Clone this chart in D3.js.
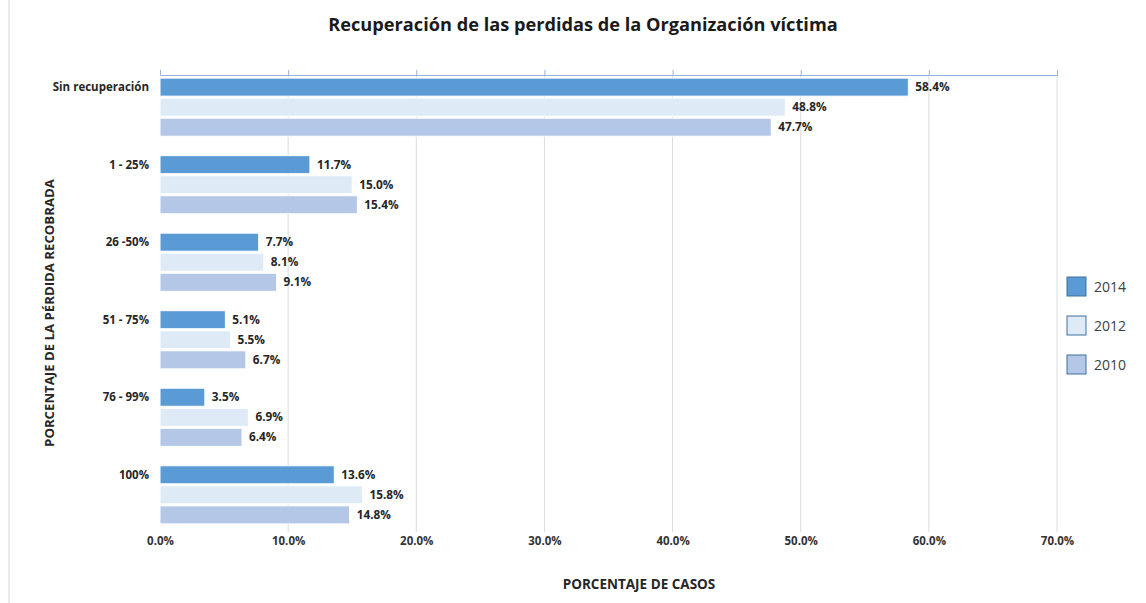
<!DOCTYPE html>
<html>
<head>
<meta charset="utf-8">
<script src="https://cdn.jsdelivr.net/npm/d3@7"></script>
<style>
  body { margin: 0; background: #fff; }
  svg { font-family: "Open Sans", Lato, sans-serif; }
</style>
</head>
<body>
<svg id="chart" width="1146" height="603"></svg>
<script>
var categories = ["Sin recuperación", "1 - 25%", "26 -50%", "51 - 75%", "76 - 99%", "100%"];
var seriesNames = ["2014", "2012", "2010"];
var values2014 = [58.4, 11.7, 7.7, 5.1, 3.5, 13.6];
var values2012 = [48.8, 15.0, 8.1, 5.5, 6.9, 15.8];
var values2010 = [47.7, 15.4, 9.1, 6.7, 6.4, 14.8];
var xTicks = [0, 10, 20, 30, 40, 50, 60, 70];
var colors = ["#5b9bd5", "#deebf7", "#b4c7e7"];

var title = "Recuperación de las perdidas de la Organización víctima";
var xLabel = "PORCENTAJE DE CASOS";
var yLabel = "PORCENTAJE DE LA PÉRDIDA RECOBRADA";

var svg = d3.select('#chart');

var plotLeft = 160, plotRight = 1057, plotTop = 75, plotBottom = 527;

var data = categories.map(function (c, i) {
    return {
        cat: c,
        vals: [values2014[i], values2012[i], values2010[i]]
    };
});

var xScale = d3.scaleLinear()
    .domain([0, 70])
    .range([plotLeft, plotRight]);

var yScale = d3.scaleBand()
    .domain(categories)
    .range([plotTop, plotBottom])
    .paddingInner(0.25)
    .paddingOuter(0.04);

var subScale = d3.scaleBand()
    .domain(seriesNames)
    .range([0, yScale.bandwidth()])
    .paddingInner(0.1);

var colorScale = d3.scaleOrdinal()
    .domain(seriesNames)
    .range(colors);

// left frame line
svg.append('line')
    .attr('x1', 9).attr('x2', 9)
    .attr('y1', 0).attr('y2', 603)
    .attr('stroke', '#e4e4e4')
    .attr('stroke-width', 1.5);

// gridlines
svg.append('g')
    .selectAll('line')
    .data(xTicks.slice(1))
    .enter()
    .append('line')
    .attr('x1', function (d) { return xScale(d); })
    .attr('x2', function (d) { return xScale(d); })
    .attr('y1', plotTop)
    .attr('y2', 532)
    .attr('stroke', '#dcdcdc')
    .attr('stroke-width', 1);

// top axis line with ticks
var topAxis = d3.axisTop()
    .scale(xScale)
    .tickValues(xTicks)
    .tickFormat("")
    .tickSize(5);

var topAxisG = svg.append('g')
    .attr('transform', 'translate(0,' + plotTop + ')')
    .call(topAxis);
topAxisG.select('.domain').attr('stroke', '#98b0da').attr('stroke-width', 1);
topAxisG.selectAll('.tick line').attr('stroke', '#98b0da');

// bottom tick labels
var xAxis = d3.axisBottom()
    .scale(xScale)
    .tickValues(xTicks)
    .tickSize(0)
    .tickPadding(0)
    .tickFormat(function (d) { return d3.format('.1f')(d) + '%'; });

var xAxisG = svg.append('g')
    .attr('transform', 'translate(0,537)')
    .call(xAxis);
xAxisG.select('.domain').remove();
xAxisG.selectAll('text')
    .attr('font-size', 11.5)
    .attr('font-weight', 'bold')
    .attr('fill', '#333')
    .attr('font-family', '"Open Sans", sans-serif');

// category labels (aligned with first bar)
svg.append('g')
    .selectAll('text')
    .data(categories)
    .enter()
    .append('text')
    .attr('x', 149)
    .attr('y', function (d) { return yScale(d) + subScale('2014') + subScale.bandwidth() / 2; })
    .attr('dy', '0.35em')
    .attr('text-anchor', 'end')
    .attr('font-size', 11.5)
    .attr('font-weight', 'bold')
    .attr('fill', '#262626')
    .text(function (d) { return d; });

// bars
var groups = svg.append('g')
    .selectAll('g')
    .data(data)
    .enter()
    .append('g')
    .attr('transform', function (d) { return 'translate(0,' + yScale(d.cat) + ')'; });

var bars = groups.selectAll('g')
    .data(function (d) {
        return d.vals.map(function (v, i) { return { name: seriesNames[i], value: v }; });
    })
    .enter()
    .append('g');

bars.append('rect')
    .attr('x', xScale(0))
    .attr('y', function (d) { return subScale(d.name); })
    .attr('width', function (d) { return xScale(d.value) - xScale(0); })
    .attr('height', subScale.bandwidth())
    .attr('fill', function (d) { return colorScale(d.name); })
    .attr('stroke', '#ffffff')
    .attr('stroke-width', 1);

bars.append('text')
    .attr('x', function (d) { return xScale(d.value) + 7; })
    .attr('y', function (d) { return subScale(d.name) + subScale.bandwidth() / 2; })
    .attr('dy', '0.35em')
    .attr('font-size', 11.8)
    .attr('font-weight', 'bold')
    .attr('fill', '#262626')
    .text(function (d) { return d3.format('.1f')(d.value) + '%'; });

// title
svg.append('text')
    .attr('x', 583)
    .attr('y', 31)
    .attr('text-anchor', 'middle')
    .attr('font-size', 18.2)
    .attr('font-weight', 'bold')
    .attr('fill', '#1a1a1a')
    .text(title);

// axis titles
svg.append('text')
    .attr('x', 639)
    .attr('y', 589)
    .attr('text-anchor', 'middle')
    .attr('font-size', 13.5)
    .attr('font-weight', 'bold')
    .attr('fill', '#262626')
    .text(xLabel);

svg.append('text')
    .attr('transform', 'translate(54,313) rotate(-90)')
    .attr('text-anchor', 'middle')
    .attr('font-size', 13.2)
    .attr('font-weight', 'bold')
    .attr('fill', '#262626')
    .text(yLabel);

// legend
var legend = svg.append('g')
    .selectAll('g')
    .data(seriesNames)
    .enter()
    .append('g')
    .attr('transform', function (d, i) { return 'translate(1067,' + (277 + i * 39) + ')'; });

legend.append('rect')
    .attr('width', 19)
    .attr('height', 19)
    .attr('fill', function (d) { return colorScale(d); })
    .attr('stroke', '#41719c')
    .attr('stroke-width', 1);

legend.append('text')
    .attr('x', 27)
    .attr('y', 10)
    .attr('dy', '0.35em')
    .attr('font-size', 14)
    .attr('fill', '#404040')
    .text(function (d) { return d; });
</script>
</body>
</html>
